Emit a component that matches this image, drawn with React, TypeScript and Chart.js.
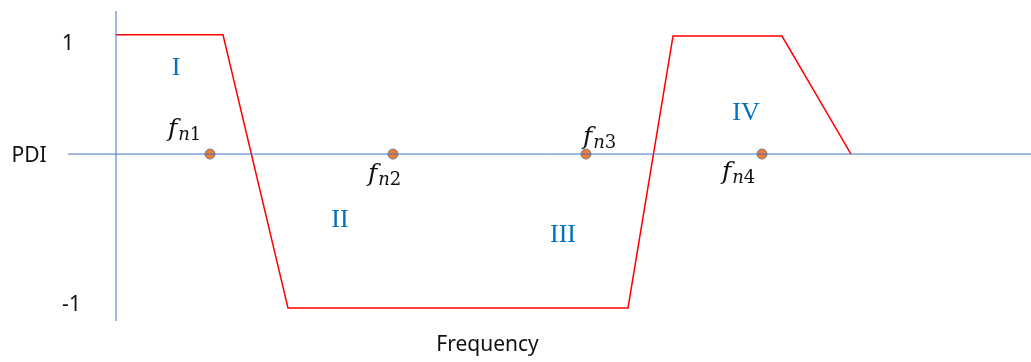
import React, { useEffect, useRef } from "react";
import { Chart, registerables } from "chart.js";

Chart.register(...registerables);

// Frequency axis (arbitrary units, 0 = vertical axis)
const xMin = -48;
const xMax = 915;
const yMin = -1.4;
const yMax = 1.2;

// PDI curve
const pdiFreq = [0, 107, 172, 512, 557, 666, 735];
const pdiValues = [1, 1, -1.29, -1.29, 0.99, 0.99, 0];

// Natural frequencies on the PDI = 0 line
const naturalFreqs = [94, 277, 470, 646];
const naturalValues = [0, 0, 0, 0];

// Natural-frequency labels: f_{n k}
const fLabelSub = ["n1", "n2", "n3", "n4"];
const fLabelX = [52, 252, 467, 606];
const fLabelY = [0.152, -0.227, 0.085, -0.209];

// Region labels
const regionNames = ["I", "II", "III", "IV"];
const regionX = [60, 224, 447, 630];
const regionY = [0.663, -0.611, -0.737, 0.286];

// Axis texts
const axisTexts = ["1", "PDI", "-1", "Frequency"];
const axisTextX = [-48, -87, -44.5, 371.5];
const axisTextY = [0.873, -0.066, -1.316, -1.652];

const labelPlugin = {
  id: "labels",
  afterDatasetsDraw(chart: any) {
    const ctx = chart.ctx;
    const xs = chart.scales.x;
    const ys = chart.scales.y;
    ctx.save();
    ctx.textBaseline = "alphabetic";

    // axis texts
    ctx.fillStyle = "#111111";
    ctx.font = "21px 'Noto Sans'";
    ctx.textAlign = "center";
    axisTexts.forEach((t, i) => {
      ctx.fillText(t, xs.getPixelForValue(axisTextX[i]), ys.getPixelForValue(axisTextY[i]));
    });

    // region numerals
    ctx.fillStyle = "#0070C0";
    ctx.font = "26px 'Liberation Serif'";
    regionNames.forEach((t, i) => {
      ctx.fillText(t, xs.getPixelForValue(regionX[i]), ys.getPixelForValue(regionY[i]));
    });

    // f_n labels
    ctx.fillStyle = "#111111";
    ctx.textAlign = "left";
    fLabelSub.forEach((sub, i) => {
      const px = xs.getPixelForValue(fLabelX[i]);
      const py = ys.getPixelForValue(fLabelY[i]);
      ctx.font = "italic 25px 'DejaVu Serif'";
      ctx.fillText("f", px, py);
      let cx = px + ctx.measureText("f").width + 1;
      ctx.font = "italic 18px 'DejaVu Serif'";
      ctx.fillText(sub[0], cx, py + 4);
      cx += ctx.measureText(sub[0]).width;
      ctx.font = "18px 'DejaVu Serif'";
      ctx.fillText(sub.slice(1), cx, py + 4);
    });
    ctx.restore();
  },
};

export default function App() {
  const ref = useRef<HTMLCanvasElement | null>(null);
  useEffect(() => {
    if (!ref.current) return;
    const chart = new Chart(ref.current, {
      type: "scatter",
      data: {
        datasets: [
          {
            data: [
              { x: 0, y: yMin },
              { x: 0, y: yMax },
            ],
            showLine: true,
            borderColor: "#4472C4",
            borderWidth: 1,
            pointRadius: 0,
          },
          {
            data: [
              { x: xMin, y: 0 },
              { x: xMax, y: 0 },
            ],
            showLine: true,
            borderColor: "#4472C4",
            borderWidth: 1,
            pointRadius: 0,
          },
          {
            data: pdiFreq.map((x, i) => ({ x, y: pdiValues[i] })),
            showLine: true,
            borderColor: "#FF0000",
            borderWidth: 1.5,
            pointRadius: 0,
          },
          {
            data: naturalFreqs.map((x, i) => ({ x, y: naturalValues[i] })),
            showLine: false,
            backgroundColor: "#ED7D31",
            borderColor: "#6A7D95",
            borderWidth: 1,
            pointRadius: 5,
          },
        ],
      },
      options: {
        animation: false,
        responsive: false,
        maintainAspectRatio: false,
        layout: { autoPadding: false, padding: { left: 68, right: 0, top: 11, bottom: 41 } },
        plugins: {
          legend: { display: false },
          tooltip: { enabled: false },
          title: { display: false },
        },
        scales: {
          x: { type: "linear", min: xMin, max: xMax, display: false },
          y: { type: "linear", min: yMin, max: yMax, display: false },
        },
      },
      plugins: [labelPlugin],
    });
    return () => chart.destroy();
  }, []);
  return (
    <div style={{ position: "fixed", left: 0, top: 0, width: 1031, height: 362, background: "#fff" }}>
      <canvas ref={ref} width={1031} height={362} style={{ width: 1031, height: 362 }} />
    </div>
  );
}
